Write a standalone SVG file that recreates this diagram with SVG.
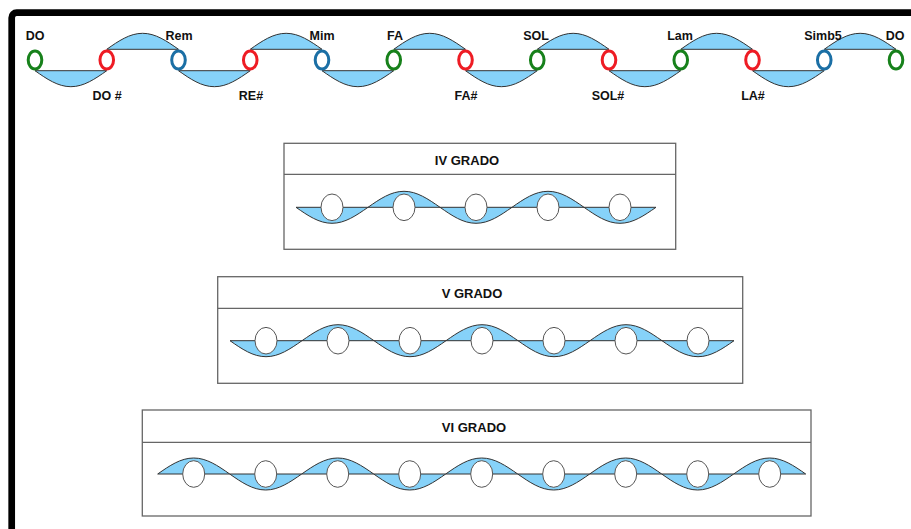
<svg xmlns="http://www.w3.org/2000/svg" width="911" height="529" viewBox="0 0 911 529">
<style>
.lbl{font-family:"Liberation Sans",Arial,sans-serif;font-weight:bold;font-size:12.5px;fill:#111;text-anchor:middle}
.ttl{font-family:"Liberation Sans",Arial,sans-serif;font-weight:bold;font-size:13px;fill:#111;text-anchor:middle}
.wave{fill:#86d2f9;stroke:#333;stroke-width:1}
.note{fill:#fff;stroke-width:3}
.g{stroke:#17811b}.r{stroke:#ee1c24}.b{stroke:#1b6fa5}
.box{fill:#fff;stroke:#666;stroke-width:1.3}
.egg{fill:#fff;stroke:#555;stroke-width:1}
</style>
<defs>
<path id="tD" class="wave" d="M0,0 C11.7,8.2 22.89,16 35.875,16 C48.86,16 60.05,8.2 71.75,0 Z"/>
<path id="tU" class="wave" d="M0,0 C11.7,-8.2 22.89,-16 35.875,-16 C48.86,-16 60.05,-8.2 71.75,0 Z"/>
<path id="gD" class="wave" d="M0,0 C11.74,8.2 22.97,16 36,16 C49.03,16 60.26,8.2 72,0 Z"/>
<path id="gU" class="wave" d="M0,0 C11.74,-8.2 22.97,-16 36,-16 C49.03,-16 60.26,-8.2 72,0 Z"/>
</defs>
<rect width="911" height="529" fill="#fff"/>
<rect x="11.7" y="12.7" width="1000" height="1000" rx="5" fill="none" stroke="#000" stroke-width="6.7"/>

<g id="connectors">
<use href="#tD" x="35" y="70.7"/>
<use href="#tU" x="106.75" y="49.3"/>
<use href="#tD" x="178.5" y="70.7"/>
<use href="#tU" x="250.25" y="49.3"/>
<use href="#tD" x="322" y="70.7"/>
<use href="#tU" x="393.75" y="49.3"/>
<use href="#tD" x="465.5" y="70.7"/>
<use href="#tU" x="537.25" y="49.3"/>
<use href="#tD" x="609" y="70.7"/>
<use href="#tU" x="680.75" y="49.3"/>
<use href="#tD" x="752.5" y="70.7"/>
<use href="#tU" x="824.25" y="49.3"/>
</g>

<g id="note-DO"><ellipse class="note g" cx="35" cy="60" rx="6.8" ry="9"/><text class="lbl" x="35" y="39.5">DO</text></g>
<g id="note-DOs"><ellipse class="note r" cx="106.75" cy="60" rx="6.8" ry="9"/><text class="lbl" x="107" y="100">DO #</text></g>
<g id="note-Rem"><ellipse class="note b" cx="178.5" cy="60" rx="6.8" ry="9"/><text class="lbl" x="179" y="39.5">Rem</text></g>
<g id="note-REs"><ellipse class="note r" cx="250.25" cy="60" rx="6.8" ry="9"/><text class="lbl" x="251" y="100">RE#</text></g>
<g id="note-Mim"><ellipse class="note b" cx="322" cy="60" rx="6.8" ry="9"/><text class="lbl" x="322" y="39.5">Mim</text></g>
<g id="note-FA"><ellipse class="note g" cx="393.75" cy="60" rx="6.8" ry="9"/><text class="lbl" x="395" y="39.5">FA</text></g>
<g id="note-FAs"><ellipse class="note r" cx="465.5" cy="60" rx="6.8" ry="9"/><text class="lbl" x="466" y="100">FA#</text></g>
<g id="note-SOL"><ellipse class="note g" cx="537.25" cy="60" rx="6.8" ry="9"/><text class="lbl" x="536" y="39.5">SOL</text></g>
<g id="note-SOLs"><ellipse class="note r" cx="609" cy="60" rx="6.8" ry="9"/><text class="lbl" x="608" y="100">SOL#</text></g>
<g id="note-Lam"><ellipse class="note g" cx="680.75" cy="60" rx="6.8" ry="9"/><text class="lbl" x="680" y="39.5">Lam</text></g>
<g id="note-LAs"><ellipse class="note r" cx="752.5" cy="60" rx="6.8" ry="9"/><text class="lbl" x="753" y="100">LA#</text></g>
<g id="note-Simb5"><ellipse class="note b" cx="824.25" cy="60" rx="6.8" ry="9"/><text class="lbl" x="823" y="39.5">Simb5</text></g>
<g id="note-DO2"><ellipse class="note g" cx="896" cy="60" rx="6.8" ry="9"/><text class="lbl" x="895" y="39.5">DO</text></g>

<g id="box-IV">
<rect class="box" x="284" y="143.3" width="391.7" height="106"/>
<line class="box" x1="284" y1="174.3" x2="675.7" y2="174.3"/>
<text class="ttl" x="467" y="165">IV GRADO</text>
<use href="#gD" x="296" y="207.3"/>
<use href="#gU" x="368" y="207.3"/>
<use href="#gD" x="440" y="207.3"/>
<use href="#gU" x="512" y="207.3"/>
<use href="#gD" x="584" y="207.3"/>
<ellipse class="egg" cx="332" cy="207.3" rx="11" ry="13.3"/>
<ellipse class="egg" cx="404" cy="207.3" rx="11" ry="13.3"/>
<ellipse class="egg" cx="476" cy="207.3" rx="11" ry="13.3"/>
<ellipse class="egg" cx="548" cy="207.3" rx="11" ry="13.3"/>
<ellipse class="egg" cx="620" cy="207.3" rx="11" ry="13.3"/>
</g>

<g id="box-V">
<rect class="box" x="217.7" y="276.7" width="525" height="106.6"/>
<line class="box" x1="217.7" y1="308.3" x2="742.7" y2="308.3"/>
<text class="ttl" x="472" y="298.4">V GRADO</text>
<use href="#gD" x="230" y="340.7"/>
<use href="#gU" x="302" y="340.7"/>
<use href="#gD" x="374" y="340.7"/>
<use href="#gU" x="446" y="340.7"/>
<use href="#gD" x="518" y="340.7"/>
<use href="#gU" x="590" y="340.7"/>
<use href="#gD" x="662" y="340.7"/>
<ellipse class="egg" cx="266" cy="340.7" rx="11" ry="13.3"/>
<ellipse class="egg" cx="338" cy="340.7" rx="11" ry="13.3"/>
<ellipse class="egg" cx="410" cy="340.7" rx="11" ry="13.3"/>
<ellipse class="egg" cx="482" cy="340.7" rx="11" ry="13.3"/>
<ellipse class="egg" cx="554" cy="340.7" rx="11" ry="13.3"/>
<ellipse class="egg" cx="626" cy="340.7" rx="11" ry="13.3"/>
<ellipse class="egg" cx="698" cy="340.7" rx="11" ry="13.3"/>
</g>

<g id="box-VI">
<rect class="box" x="142.3" y="410" width="668.7" height="106"/>
<line class="box" x1="142.3" y1="442.3" x2="811" y2="442.3"/>
<text class="ttl" x="474" y="431.7">VI GRADO</text>
<use href="#gU" x="157.7" y="474"/>
<use href="#gD" x="229.7" y="474"/>
<use href="#gU" x="301.7" y="474"/>
<use href="#gD" x="373.7" y="474"/>
<use href="#gU" x="445.7" y="474"/>
<use href="#gD" x="517.7" y="474"/>
<use href="#gU" x="589.7" y="474"/>
<use href="#gD" x="661.7" y="474"/>
<use href="#gU" x="733.7" y="474"/>
<ellipse class="egg" cx="193.7" cy="474" rx="11" ry="13.3"/>
<ellipse class="egg" cx="265.7" cy="474" rx="11" ry="13.3"/>
<ellipse class="egg" cx="337.7" cy="474" rx="11" ry="13.3"/>
<ellipse class="egg" cx="409.7" cy="474" rx="11" ry="13.3"/>
<ellipse class="egg" cx="481.7" cy="474" rx="11" ry="13.3"/>
<ellipse class="egg" cx="553.7" cy="474" rx="11" ry="13.3"/>
<ellipse class="egg" cx="625.7" cy="474" rx="11" ry="13.3"/>
<ellipse class="egg" cx="697.7" cy="474" rx="11" ry="13.3"/>
<ellipse class="egg" cx="769.7" cy="474" rx="11" ry="13.3"/>
</g>
</svg>
